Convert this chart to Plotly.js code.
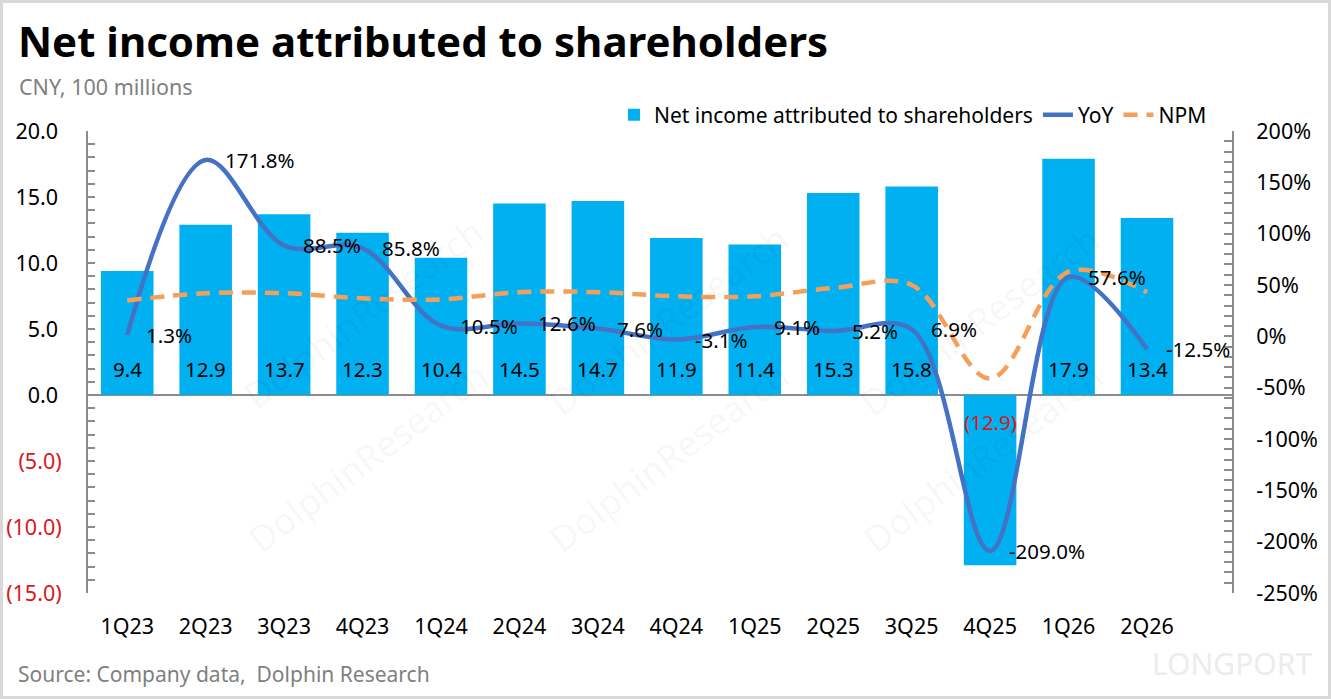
<!DOCTYPE html>
<html>
<head>
<meta charset="utf-8">
<script src="https://cdn.plot.ly/plotly-3.0.1.min.js"></script>
<style>
  body { margin: 0; background: #fff; }
  #wrap { position: relative; width: 1331px; height: 699px; }
  #chart { width: 1331px; height: 699px; }
  #frame { position: absolute; left: 0; top: 0; width: 1331px; height: 699px;
           box-sizing: border-box; border: 3px solid #d9d9d9; pointer-events: none; }
</style>
</head>
<body>
<div id="wrap">
  <div id="chart"></div>
  <div id="frame"></div>
</div>
<script>
  // quarters on the x axis
  var quarters = ['1Q23', '2Q23', '3Q23', '4Q23', '1Q24', '2Q24', '3Q24', '4Q24',
                  '1Q25', '2Q25', '3Q25', '4Q25', '1Q26', '2Q26'];
  // net income attributed to shareholders, CNY 100 millions
  var netIncome = [9.4, 12.9, 13.7, 12.3, 10.4, 14.5, 14.7, 11.9, 11.4, 15.3, 15.8, -12.9, 17.9, 13.4];
  // YoY growth, %
  var yoy = [1.3, 171.8, 88.5, 85.8, 10.5, 12.6, 7.6, -3.1, 9.1, 5.2, 6.9, -209.0, 57.6, -12.5];
  // net profit margin, %
  var npm = [35, 42, 42, 37, 36, 43, 43, 39, 39, 47, 50, -41, 63, 43];
  // axis ticks
  var leftTicks = [-15, -10, -5, 0, 5, 10, 15, 20];
  var rightTicks = [-250, -200, -150, -100, -50, 0, 50, 100, 150, 200];

  var RED = '#d7191c';
  var FONT = '"Noto Sans", "Open Sans", sans-serif';

  // accounting style: negatives in brackets and red
  function acct(v) {
    if (v < 0) return '<span style="color:' + RED + '">(' + Math.abs(v).toFixed(1) + ')</span>';
    return v.toFixed(1) + '\u2009';
  }

  var traces = [
    {
      type: 'bar',
      name: 'Net income attributed to shareholders',
      x: quarters,
      y: netIncome,
      marker: { color: '#00b0f0' },
      hoverinfo: 'x+y'
    },
    {
      type: 'scatter',
      mode: 'lines',
      name: 'YoY',
      x: quarters,
      y: yoy,
      yaxis: 'y2',
      line: { color: '#4472c4', width: 4.5, shape: 'spline', smoothing: 1 }
    },
    {
      type: 'scatter',
      mode: 'lines',
      name: 'NPM',
      x: quarters,
      y: npm,
      yaxis: 'y2',
      line: { color: '#f5a05a', width: 4.5, dash: '14px,9px', shape: 'spline', smoothing: 1 }
    }
  ];

  var annotations = [];

  // bar value labels near the base of each bar
  quarters.forEach(function (q, i) {
    var v = netIncome[i];
    annotations.push({
      x: q, y: 0, xref: 'x', yref: 'y',
      text: v < 0 ? '(' + Math.abs(v).toFixed(1) + ')' : v.toFixed(1),
      showarrow: false,
      yshift: v < 0 ? -27 : 26,
      font: { size: 20.5, color: v < 0 ? RED : '#000' }
    });
  });

  // YoY labels to the right of the points
  quarters.forEach(function (q, i) {
    annotations.push({
      x: q, y: yoy[i], xref: 'x', yref: 'y2',
      text: yoy[i].toFixed(1) + '%',
      showarrow: false,
      xanchor: 'left', yanchor: 'middle',
      xshift: 17,
      font: { size: 20.5, color: '#000' }
    });
  });

  // subtitle and source
  annotations.push({
    xref: 'paper', yref: 'paper', x: -0.062, y: 1.097,
    xanchor: 'left', yanchor: 'middle', showarrow: false,
    text: 'CNY, 100 millions', font: { size: 21.5, color: '#7f7f7f' }
  });
  annotations.push({
    xref: 'paper', yref: 'paper', x: -0.063, y: -0.175,
    xanchor: 'left', yanchor: 'middle', showarrow: false,
    text: 'Source: Company data,  Dolphin Research', font: { size: 21, color: '#7f7f7f' }
  });
  annotations.push({
    xref: 'paper', yref: 'paper', x: 1.0, y: -0.152,
    xanchor: 'center', yanchor: 'middle', showarrow: false,
    text: 'LONGPORT', font: { size: 30, color: '#ececec' }
  });

  // faint watermarks
  [[231, 205], [668, 212], [1112, 212], [235, 566], [668, 566], [1115, 566]].forEach(function (p) {
    annotations.push({
      xref: 'paper', yref: 'paper',
      x: (p[0] - 88) / 1144, y: (593 - p[1]) / 462,
      showarrow: false, textangle: -37,
      text: 'DolphinResearch',
      font: { size: 36, color: 'rgba(0,0,0,0.045)' }
    });
  });

  var layout = {
    width: 1331,
    height: 699,
    margin: { l: 88, r: 99, t: 131, b: 106 },
    paper_bgcolor: '#fff',
    plot_bgcolor: '#fff',
    font: { family: FONT, size: 21, color: '#000' },
    title: {
      text: '<b>Net income attributed to shareholders</b>',
      x: 0.0135, xanchor: 'left',
      y: 0.94, yanchor: 'middle',
      font: { size: 42, color: '#000', family: FONT }
    },
    bargap: 0.33,
    showlegend: true,
    legend: {
      orientation: 'h',
      x: 0.9825, xanchor: 'right',
      y: 0.99, yanchor: 'bottom',
      font: { size: 21 },
      bgcolor: 'rgba(0,0,0,0)'
    },
    xaxis: {
      type: 'category',
      showgrid: false,
      showline: false,
      zeroline: false,
      ticks: '',
      ticklabelstandoff: 18,
      tickfont: { size: 21.5 }
    },
    yaxis: {
      range: [-15, 20],
      tickmode: 'array',
      tickvals: leftTicks,
      ticktext: leftTicks.map(acct),
      showgrid: false,
      zeroline: true,
      zerolinecolor: '#8c8c8c',
      zerolinewidth: 2,
      showline: true,
      linecolor: '#8c8c8c',
      linewidth: 2,
      ticks: 'inside',
      ticklen: 7,
      tickcolor: '#8c8c8c',
      tickwidth: 2,
      minor: { dtick: 1, tick0: 0, ticks: 'inside', ticklen: 7, tickcolor: '#8c8c8c', tickwidth: 2 },
      ticklabelstandoff: 20,
      tickfont: { size: 21.5 }
    },
    yaxis2: {
      overlaying: 'y',
      side: 'right',
      range: [-250, 200],
      tickmode: 'array',
      tickvals: rightTicks,
      ticktext: rightTicks.map(function (v) { return v + '%'; }),
      showgrid: false,
      zeroline: false,
      showline: true,
      linecolor: '#8c8c8c',
      linewidth: 2,
      ticks: 'inside',
      ticklen: 8,
      tickcolor: '#8c8c8c',
      tickwidth: 2,
      minor: { dtick: 10, tick0: 0, ticks: 'inside', ticklen: 8, tickcolor: '#8c8c8c', tickwidth: 2 },
      ticklabelstandoff: 18,
      tickfont: { size: 21.5 }
    },
    annotations: annotations
  };

  Plotly.newPlot('chart', traces, layout, { displayModeBar: false, responsive: false });
</script>
</body>
</html>
